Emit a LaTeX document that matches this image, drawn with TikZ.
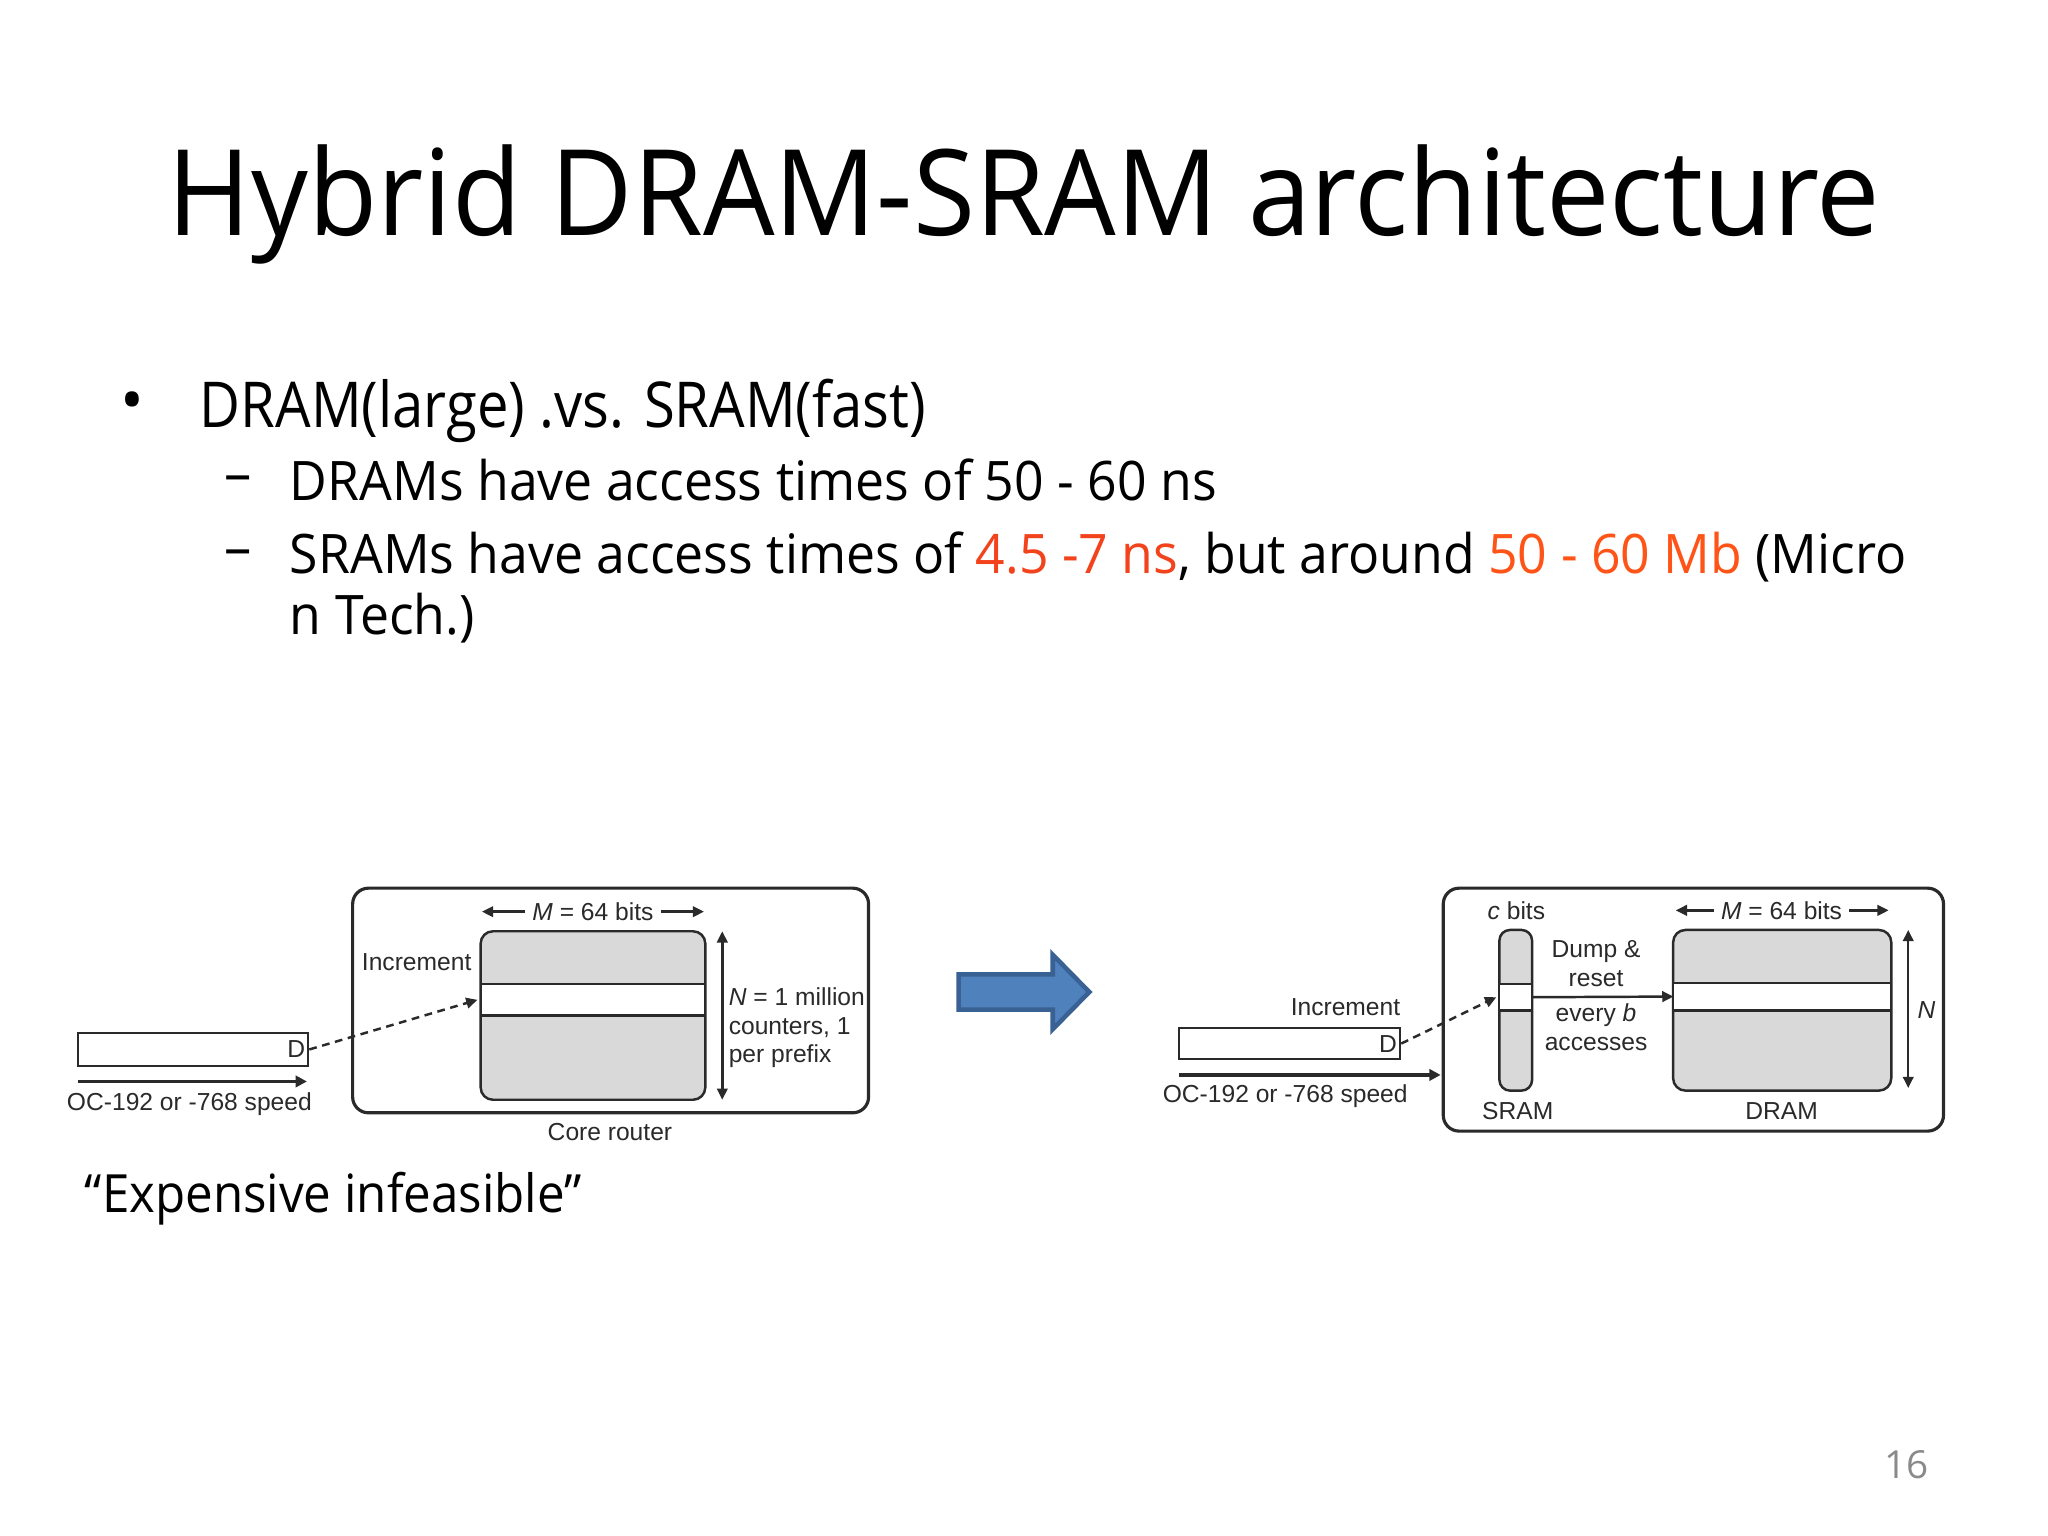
\documentclass[tikz,border=0pt]{standalone}
\usepackage{fontspec}
\setmainfont{Open Sans}
\newfontfamily\dfont{Liberation Sans}
\usetikzlibrary{arrows.meta,fit}
\definecolor{oA}{HTML}{F2431C}
\definecolor{oB}{HTML}{FF5418}
\definecolor{memgray}{HTML}{D9D9D9}
\definecolor{arrfill}{HTML}{4F81BD}
\definecolor{arrdraw}{HTML}{3A6194}
\definecolor{pgray}{HTML}{8A8A8A}
\definecolor{lineg}{HTML}{2A2A2A}
\tikzset{
  txt/.style={inner sep=0pt, outer sep=0pt},
  dg/.style={inner sep=0pt, outer sep=0pt, text=lineg, font=\dfont\fontsize{7}{8.2}\selectfont},
  outerbox/.style={draw=lineg, line width=0.9pt, rounded corners=4.5pt, inner sep=0pt},
  membox/.style={draw=lineg, line width=0.7pt, fill=memgray, rounded corners=3.5pt, inner sep=0pt},
  bandbox/.style={fill=white, inner sep=0pt},
  bandline/.style={draw=lineg, line width=0.7pt},
  dbox/.style={draw=lineg, line width=0.6pt, fill=white, inner sep=0pt},
  conn/.style={draw=lineg, line width=0.7pt, -{Triangle[length=3.2pt,width=3pt]}},
  dconn/.style={conn, dash pattern=on 2.2pt off 1.6pt},
  dimarr/.style={draw=lineg, line width=0.7pt, {Triangle[length=3.2pt,width=3pt]}-{Triangle[length=3.2pt,width=3pt]}},
  halfarr/.style={draw=lineg, line width=0.9pt, -{Triangle[length=3.2pt,width=3.2pt]}},
}
\begin{document}
\begin{tikzpicture}[x=0.013061cm,y=-0.013061cm]
\useasboundingbox[fill=white] (0,0) rectangle (1568,1176);

% Title
\node[txt, anchor=base, font=\fontsize{34}{40}\selectfont] (title) at (784,180) {\scalebox{0.946}[1]{Hybrid DRAM-SRAM architecture}};

% Bullets
\node[txt, font=\fontsize{18}{22}\selectfont] (b1) at (101,312) {•};
\node[txt, anchor=base west, font=\fontsize{18}{22}\selectfont] (l1) at (153,327) {\scalebox{0.888}[1]{DRAM(large) .vs. SRAM(fast)}};
\node[txt, font=\fontsize{15.5}{20}\selectfont] (d1) at (182,371) {–};
\node[txt, anchor=base west, font=\fontsize{15.5}{20}\selectfont] (l2) at (222,383) {\scalebox{0.95}[1]{DRAMs have access times of 50 - 60 ns}};
\node[txt, font=\fontsize{15.5}{20}\selectfont] (d2) at (182,427) {–};
\node[txt, anchor=base west, font=\fontsize{15.5}{20}\selectfont] (l3) at (222,439) {\scalebox{0.95}[1]{SRAMs have access times of \textcolor{oA}{4.5 -7 ns}, but around \textcolor{oB}{50 - 60 Mb} (Micro}};
\node[txt, anchor=base west, font=\fontsize{15.5}{20}\selectfont] (l4) at (222,486) {\scalebox{0.95}[1]{n Tech.)}};

% Left diagram
\node[outerbox, fit={(270,680) (665,852)}] (Lout) {};
\node[membox, fit={(368,713) (540,842)}] (Lmem) {};
\node[bandbox, fit={(368.8,754) (539.2,777)}] (Lband) {};
\draw[bandline] (Lband.north west) -- (Lband.north east);
\draw[bandline] (Lband.south west) -- (Lband.south east);
\node[dbox, fit={(60,791) (236,816)}] (LD) {};
\node[dg, anchor=east] (LDt) at ([xshift=-1.2pt]LD.east) {D};
\coordinate (Lsp1) at (60,828);
\coordinate (Lsp2) at (235,828);
\draw[halfarr] (Lsp1) -- (Lsp2);
\node[dg] (Lspeed) at (145,845) {OC-192 or -768 speed};
\node[dg] (LM) at (454,698) {\textit{M} = 64 bits};
\coordinate (LMl) at (369,698);
\coordinate (LMr) at (539,698);
\draw[conn] (LM.west) ++(-2pt,0) coordinate (LMa) (LMa) -- (LMl);
\draw[conn] (LM.east) ++(2pt,0) coordinate (LMb) (LMb) -- (LMr);
\node[dg] (Linc) at (319,737) {Increment};
\draw[dconn] (LD.east) -- ([xshift=-1pt]Lband.west);
\coordinate (LN1) at (553,713);
\coordinate (LN2) at (553,842);
\draw[dimarr] (LN1) -- (LN2);
\node[dg, anchor=north west, align=left] (LNt) at (558,756) {\textit{N} = 1 million\\counters, 1\\per prefix};
\node[dg] (Lcore) at (467,867) {Core router};

% Blue arrow
\draw[fill=arrfill, draw=arrdraw, line width=1.3pt, line join=miter]
  (734,746) -- (806,746) -- (806,731) -- (834,759.5) -- (806,788) -- (806,773) -- (734,773) -- cycle;

% Right diagram
\node[outerbox, fit={(1105,680) (1488,866)}] (Rout) {};
\node[membox, rounded corners=3pt, fit={(1148,712) (1173,835)}] (Rsram) {};
\node[bandbox, fit={(1148.8,754) (1172.2,773)}] (Rsb) {};
\draw[bandline] (Rsb.north west) -- (Rsb.north east);
\draw[bandline] (Rsb.south west) -- (Rsb.south east);
\node[dg] (Rc) at (1161,697) {\textit{c} bits};
\node[dg] (Rsl) at (1162,851) {SRAM};
\node[dg, align=center] (Rdump) at (1222,738) {Dump \&\\reset};
\node[dg, align=center] (Revery) at (1222,786.5) {every \textit{b}\\accesses};
\node[membox, fit={(1281,712) (1448,835)}] (Rdram) {};
\node[bandbox, fit={(1281.8,753) (1447.2,773)}] (Rdb) {};
\draw[bandline] (Rdb.north west) -- (Rdb.north east);
\draw[bandline] (Rdb.south west) -- (Rdb.south east);
\draw[conn] (Rsb.east) -- (Rdb.west);
\node[dg] (RM) at (1364,697) {\textit{M} = 64 bits};
\coordinate (RMl) at (1283,697);
\coordinate (RMr) at (1446,697);
\draw[conn] (RM.west) ++(-2pt,0) coordinate (RMa) (RMa) -- (RMl);
\draw[conn] (RM.east) ++(2pt,0) coordinate (RMb) (RMb) -- (RMr);
\coordinate (RN1) at (1461,712);
\coordinate (RN2) at (1461,833);
\draw[dimarr] (RN1) -- (RN2);
\node[dg] (RNt) at (1475,773) {\textit{N}};
\node[dg] (Rdl) at (1364,851) {DRAM};
\node[dg, anchor=east] (Rinc) at (1072,771) {Increment};
\node[dbox, fit={(903,787) (1072,811)}] (RD) {};
\node[dg, anchor=east] (RDt) at ([xshift=-1.2pt]RD.east) {D};
\draw[dconn] (RD.east) -- ([xshift=-1pt]Rsb.west);
\coordinate (Rsp1) at (903,823);
\coordinate (Rsp2) at (1103,823);
\draw[halfarr] (Rsp1) -- (Rsp2);
\node[dg] (Rspeed) at (984,839) {OC-192 or -768 speed};

% Caption
\node[txt, anchor=base west, font=\fontsize{15}{19}\selectfont] (cap) at (65,928) {\scalebox{0.934}[1]{“Expensive infeasible”}};

% Page number
\node[txt, anchor=base, text=pgray, font=\fontsize{11}{13}\selectfont] (pg) at (1460,1132) {16};
\end{tikzpicture}
\end{document}
